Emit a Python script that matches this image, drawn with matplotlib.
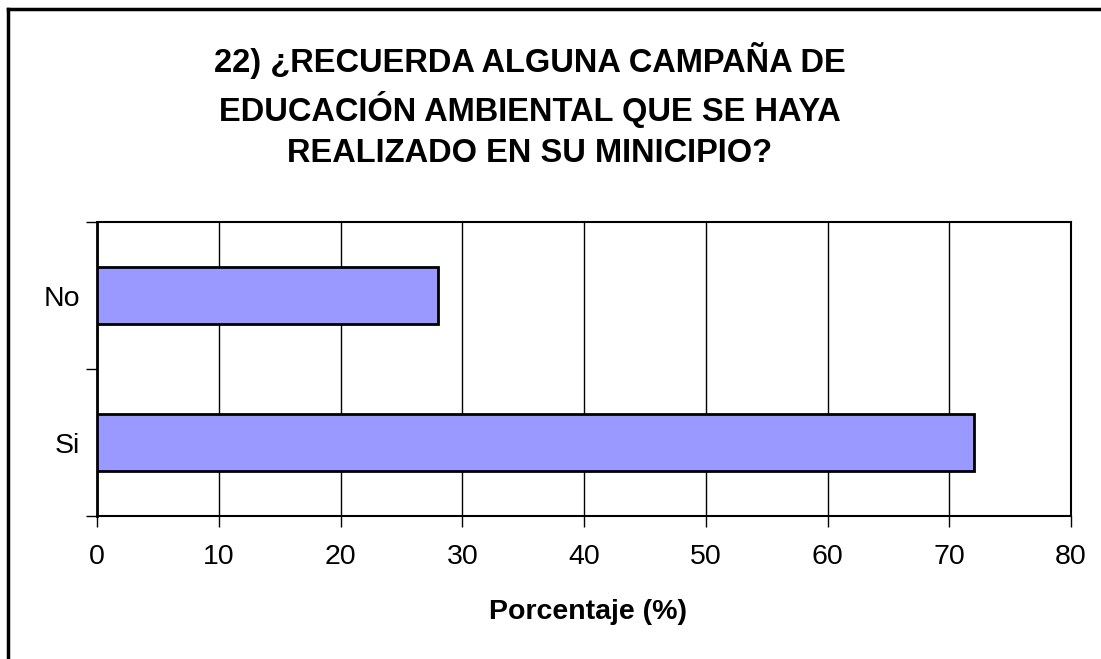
import matplotlib.pyplot as plt
from matplotlib.lines import Line2D

# Datos de la encuesta (pregunta 22)
categorias = ["Si", "No"]
porcentajes = [72, 28]
xticks = [0, 10, 20, 30, 40, 50, 60, 70, 80]

titulo = "22) ¿RECUERDA ALGUNA CAMPAÑA DE\nEDUCACIÓN AMBIENTAL QUE SE HAYA\nREALIZADO EN SU MINICIPIO?"

plt.rcParams['font.family'] = ['Liberation Sans', 'DejaVu Sans']

fig = plt.figure(figsize=(11.01, 6.59), dpi=100)
ax = fig.add_axes([0.0881, 0.2170, 0.8847, 0.4461])

y = list(range(len(categorias)))
ax.barh(y, porcentajes, height=0.39, color="#9999FF", edgecolor="black", linewidth=2, zorder=3)

ax.set_xlim(0, 80)
ax.set_ylim(-0.5, 1.5)
ax.set_xticks(xticks)
ax.set_xticklabels([str(v) for v in xticks], fontsize=20.5)

# ticks del eje y en los limites de categoria, etiquetas en el centro
ax.set_yticks([-0.5, 0.5, 1.5])
ax.set_yticklabels([])
ax.set_yticks(y, minor=True)
ax.set_yticklabels(categorias, minor=True, fontsize=20.5)
ax.tick_params(axis='y', which='minor', length=0, pad=12)
ax.tick_params(axis='y', which='major', length=8, width=1, direction='out')
ax.tick_params(axis='x', length=8, width=1, direction='out', pad=12)

ax.grid(axis='x', color='black', linewidth=1, zorder=0)
for s in ax.spines.values():
    s.set_linewidth(1.5)
ax.spines['left'].set_linewidth(2)

fig.text(0.534, 0.0713, "Porcentaje (%)", ha='center', va='center', fontsize=20.5, fontweight='bold')

fig.text(0.481, 0.840, titulo, ha='center', va='center', fontsize=23.5,
         fontweight='bold', linespacing=1.4)

# marco exterior (solo izquierda y arriba visibles)
fig.add_artist(Line2D([0.0073, 0.0073], [0, 0.986], color='black', linewidth=2.5, transform=fig.transFigure))
fig.add_artist(Line2D([0.0073, 1.0], [0.986, 0.986], color='black', linewidth=2.5, transform=fig.transFigure))

fig.savefig("out.png", dpi=100)
